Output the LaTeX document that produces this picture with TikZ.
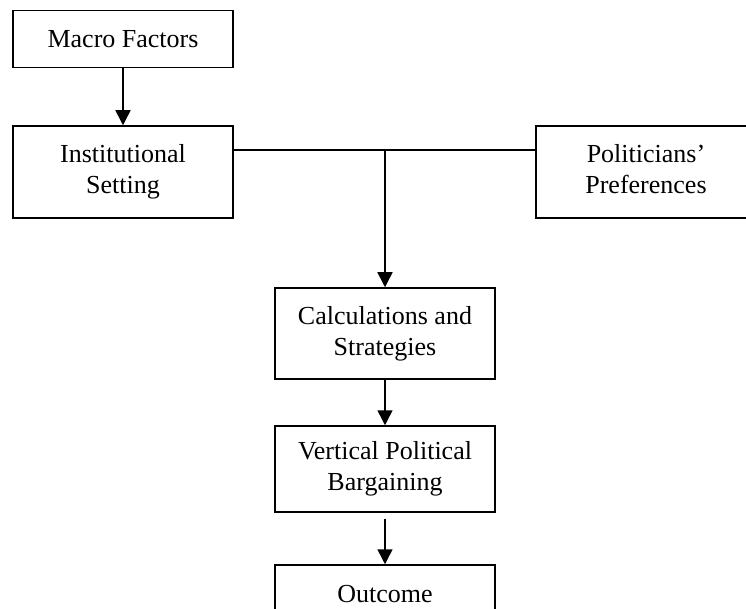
\documentclass[tikz,border=0pt]{standalone}
\usepackage{fontspec}
\setmainfont{Liberation Serif}
\usetikzlibrary{arrows.meta}
\begin{document}
\begin{tikzpicture}[x=1pt,y=-1pt,
  box/.style={draw, line width=1.5pt, align=center, inner sep=0pt,
    minimum width=220pt, font=\fontsize{26}{31}\selectfont},
  link/.style={line width=1.5pt},
  arr/.style={link, -{Triangle[length=15pt,width=15pt]}}]
\useasboundingbox (0,0) rectangle (746,609);
\clip (0,0) rectangle (746,609);
% boxes (two-line texts carry struts so their baselines agree)
\node[box, minimum height=57pt] (macro) at (123,39) {Macro Factors};
\node[box, minimum height=92pt] (inst) at (123,172) {Institutional\strut\\Setting\strut};
\node[box, minimum height=92pt] (pol) at (646,172) {Politicians’\strut\\Preferences\strut};
\node[box, minimum height=91pt] (calc) at (385,333.5) {Calculations and\strut\\Strategies\strut};
\node[box, minimum height=86pt] (vert) at (385,469) {Vertical Political\strut\\Bargaining\strut};
\node[box, minimum height=58pt] (out) at (385,594) {Outcome};
% connectors
\coordinate (junction) at (385,150);
\draw[arr] (macro.south) -- (inst.north);
\draw[link] (inst.east |- junction) -- (pol.west |- junction);
\draw[arr] (junction) -- (calc.north);
\draw[arr] (calc.south) -- (vert.north);
\draw[arr, shorten <=6pt] (vert.south) -- (out.north);
\end{tikzpicture}
\end{document}
